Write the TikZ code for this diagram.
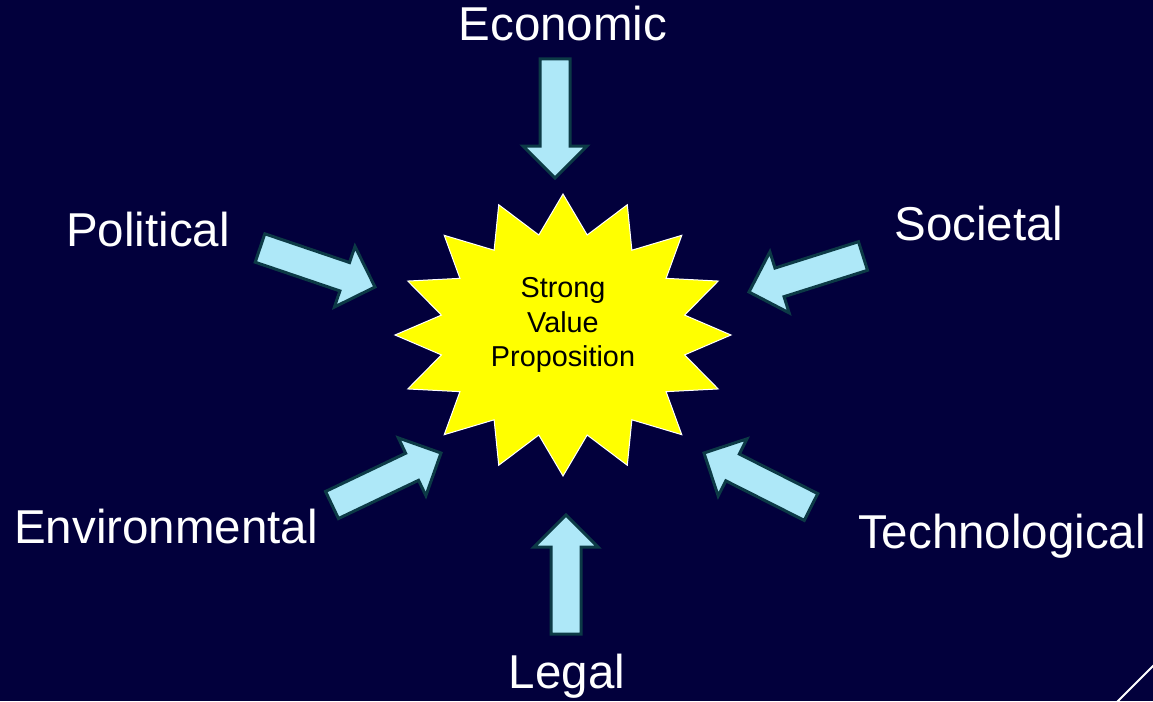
\documentclass[tikz,border=0pt]{standalone}
\usepackage{fontspec}
\setmainfont{Liberation Sans}
\usetikzlibrary{calc,positioning}

\definecolor{slide_bg}{RGB}{2,0,60}
\definecolor{arrow_fill}{RGB}{174,232,248}
\definecolor{arrow_edge}{RGB}{12,58,70}
\definecolor{burst_fill}{RGB}{255,255,0}

\tikzset{
block_arrow/.style={fill=arrow_fill, draw=arrow_edge, line width=3pt, line join=miter},
burst/.style={fill=burst_fill, draw=white, line width=1pt},
factor/.style={text=white, anchor=base, inner sep=0pt, font=\fontsize{47.5}{57}\selectfont},
core_text/.style={text=black, align=center, inner sep=0pt, font=\fontsize{28.8}{34.5}\selectfont}
}

% fat arrow from #1 (tail) to #2 (tip)
\newcommand{\fatarrow}[2]{%
  \path ($(#2)!32pt!(#1)$) coordinate (hb);
  \draw[block_arrow] ($(#1)!15pt!90:(#2)$) -- ($(hb)!15pt!90:(#2)$) -- ($(hb)!32pt!90:(#2)$)
    -- (#2) -- ($(hb)!32pt!-90:(#2)$) -- ($(hb)!15pt!-90:(#2)$) -- ($(#1)!15pt!-90:(#2)$) -- cycle;
}

\begin{document}
\begin{tikzpicture}[x=1pt,y=-1pt]
    \useasboundingbox (0,0) rectangle (1153,701);
    \fill[slide_bg] (0,0) rectangle (1153,701);

    % the 16 point burst
    \draw[burst, shift={(563,335)}] (90:168 and 141)
      \foreach \i in {0,...,15} {-- ({101.25+\i*22.5}:124 and 102) -- ({112.5+\i*22.5}:168 and 141)} -- cycle;
    \node[core_text] (vp) at (563,325) {Strong\\Value\\Proposition};

    % arrow ends
    \coordinate (econ_tail) at (555,59);
    \coordinate (econ_tip) at (555,178);
    \coordinate (pol_tail) at (260,248);
    \coordinate (pol_tip) at (375,287);
    \coordinate (soc_tail) at (863,256);
    \coordinate (soc_tip) at (749,292);
    \coordinate (env_tail) at (332,505);
    \coordinate (env_tip) at (441,453);
    \coordinate (tech_tail) at (811,507);
    \coordinate (tech_tip) at (704,453);
    \coordinate (legal_tail) at (566,634);
    \coordinate (legal_tip) at (566,515);

    \fatarrow{econ_tail}{econ_tip}
    \fatarrow{pol_tail}{pol_tip}
    \fatarrow{soc_tail}{soc_tip}
    \fatarrow{env_tail}{env_tip}
    \fatarrow{tech_tail}{tech_tip}
    \fatarrow{legal_tail}{legal_tip}

    % labels
    \node[factor] (economic) at (563,41) {Economic};
    \node[factor] (political) at (148,246) {Political};
    \node[factor] (societal) at (979,240) {Societal};
    \node[factor] (environmental) at (166,543) {Environmental};
    \node[factor] (technological) at (1002,548) {Technological};
    \node[factor] (legal) at (567,688) {Legal};

    \draw[white, line width=2pt] (1116,703) -- (1156,663);
\end{tikzpicture}
\end{document}
